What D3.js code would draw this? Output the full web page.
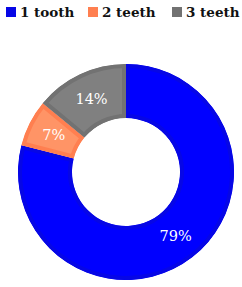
<!DOCTYPE html>
<html>
<head>
<meta charset="utf-8">
<script src="https://cdn.jsdelivr.net/npm/d3@7"></script>
<style>
body{margin:0;background:#fff}
svg{display:block}
text{font-family:"DejaVu Serif","Liberation Serif",serif}
</style>
</head>
<body>
<svg id="chart"></svg>
<script>
var screen = {width:242,height:287}
var center = {x:126,y:172}
var radii = {outer:108,inner:54}

var labels = ["1 tooth","2 teeth","3 teeth"]
var values = [79,7,14]
var fills = ["#0000ff","#ff9466","#808080"]
var borders = ["#0606e6","#ff7f50","#727272"]

var svg = d3.select("#chart")
    .attr("width",screen.width)
    .attr("height",screen.height)

var pie = d3.pie().sort(null).value(function(d){return d})
var arc = d3.arc().innerRadius(radii.inner).outerRadius(radii.outer)
var arcs = pie(values)

var graph = svg.append("g")
    .attr("transform","translate("+center.x+","+center.y+")")

var defs = svg.append("defs")
defs.selectAll("clipPath")
    .data(arcs)
    .enter()
    .append("clipPath")
    .attr("id",function(d,i){return "clip"+i})
    .append("path")
    .attr("d",arc)

graph.selectAll("path.slice")
    .data(arcs)
    .enter()
    .append("path")
    .classed("slice",true)
    .attr("d",arc)
    .attr("fill",function(d,i){return fills[i]})
    .attr("stroke",function(d,i){return borders[i]})
    .attr("stroke-width",8)
    .attr("clip-path",function(d,i){return "url(#clip"+i+")"})

graph.selectAll("text")
    .data(arcs)
    .enter()
    .append("text")
    .attr("x",function(d){return arc.centroid(d)[0]})
    .attr("y",function(d){return arc.centroid(d)[1]})
    .attr("dy","0.35em")
    .attr("text-anchor","middle")
    .attr("fill","#fff")
    .style("font-size","14.5px")
    .text(function(d){return d.data+"%"})

// legend
var legend = svg.append("g")
var items = legend.selectAll("g")
    .data(labels)
    .enter()
    .append("g")
items.append("rect")
    .attr("width",10)
    .attr("height",10)
    .attr("y",7)
    .attr("fill",function(d,i){return borders[i]})
items.append("text")
    .attr("x",14)
    .attr("y",17)
    .style("font-weight","bold")
    .style("font-size","13.5px")
    .attr("fill","#111")
    .text(function(d){return d})

var starts = [6,88,172]
items.attr("transform",function(d,i){return "translate("+starts[i]+",0)"})
</script>
</body>
</html>
